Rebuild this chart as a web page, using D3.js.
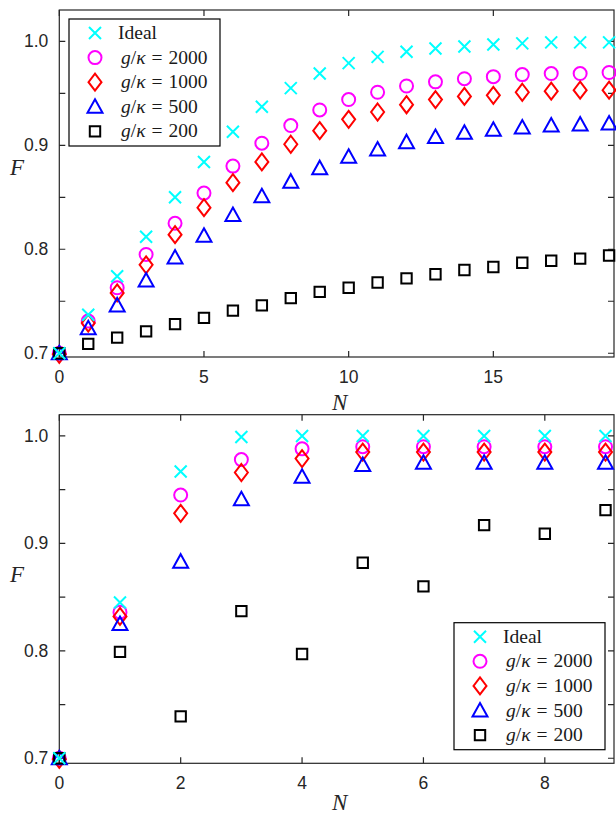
<!DOCTYPE html>
<html>
<head>
<meta charset="utf-8">
<script src="https://cdn.jsdelivr.net/npm/d3@7"></script>
<style>
  body { margin: 0; background: #fff; }
  svg { display: block; }
</style>
</head>
<body>
<div id="my_dataviz"></div>
<script>
// Data
var seriesNames = ["Ideal", "2000", "1000", "500", "200"];

// top panel, N = 0..19
var topN = d3.range(0, 20);
var topIdeal = [0.700, 0.737, 0.774, 0.812, 0.850, 0.884, 0.913, 0.937, 0.955, 0.969,
  0.979, 0.985, 0.990, 0.993, 0.995, 0.997, 0.998, 0.999, 0.999, 0.999];
var top2000 = [0.700, 0.731, 0.763, 0.795, 0.825, 0.854, 0.880, 0.902, 0.919, 0.934,
  0.944, 0.951, 0.957, 0.961, 0.964, 0.966, 0.968, 0.969, 0.969, 0.970];
var top1000 = [0.699, 0.729, 0.758, 0.785, 0.814, 0.840, 0.864, 0.884, 0.901, 0.914,
  0.925, 0.932, 0.939, 0.944, 0.947, 0.948, 0.951, 0.952, 0.953, 0.953];
var top500 = [0.700, 0.724, 0.746, 0.770, 0.792, 0.813, 0.833, 0.851, 0.865, 0.878,
  0.889, 0.896, 0.903, 0.908, 0.912, 0.915, 0.917, 0.919, 0.920, 0.921];
var top200 = [0.700, 0.709, 0.715, 0.721, 0.728, 0.734, 0.741, 0.746, 0.753, 0.759,
  0.763, 0.768, 0.772, 0.776, 0.780, 0.783, 0.787, 0.789, 0.791, 0.794];

// bottom panel, N = 0..9
var botN = d3.range(0, 10);
var botIdeal = [0.700, 0.845, 0.967, 0.999, 1.000, 1.000, 1.000, 1.000, 1.000, 1.000];
var bot2000 = [0.700, 0.836, 0.945, 0.978, 0.988, 0.990, 0.990, 0.990, 0.990, 0.990];
var bot1000 = [0.699, 0.832, 0.928, 0.966, 0.979, 0.985, 0.985, 0.985, 0.985, 0.985];
var bot500 = [0.700, 0.825, 0.883, 0.941, 0.962, 0.973, 0.975, 0.975, 0.975, 0.975];
var bot200 = [0.700, 0.799, 0.739, 0.837, 0.797, 0.882, 0.860, 0.917, 0.909, 0.931];

var topXTicks = [0, 5, 10, 15];
var botXTicks = [0, 2, 4, 6, 8];
var yTicks = [0.7, 0.75, 0.8, 0.85, 0.9, 0.95, 1.0];
var yLabels = [0.7, 0.8, 0.9, 1.0];

// style per series
var color = { Ideal: "#00ffff", "2000": "#ff00ff", "1000": "#ff0000", "500": "#0000ff", "200": "#000000" };
var shape = { Ideal: "x", "2000": "circle", "1000": "diamond", "500": "triangle", "200": "square" };
// draw order (last on top)
var drawOrder = ["2000", "1000", "500", "200", "Ideal"];

var axisColor = "#262626";

var svg = d3.select("#my_dataviz").append("svg")
  .attr("width", 616)
  .attr("height", 816);

// marker path centred on 0,0
function markerPath(kind) {
  var p = d3.path();
  if (kind == "x") {
    p.moveTo(-6, -6); p.lineTo(6, 6);
    p.moveTo(-6, 6); p.lineTo(6, -6);
  } else if (kind == "circle") {
    p.moveTo(6.5, 0); p.arc(0, 0, 6.5, 0, 2 * Math.PI);
  } else if (kind == "diamond") {
    p.moveTo(0, -8.5); p.lineTo(6.5, 0); p.lineTo(0, 8.5); p.lineTo(-6.5, 0); p.closePath();
  } else if (kind == "triangle") {
    p.moveTo(0, -7.5); p.lineTo(7.5, 6); p.lineTo(-7.5, 6); p.closePath();
  } else {
    p.rect(-5.2, -5.2, 10.4, 10.4);
  }
  return p.toString();
}

function drawPanel(opt) {
  var x = d3.scaleLinear().domain(opt.xDomain).range([opt.left, opt.right]);
  var y = d3.scaleLinear().domain(opt.yDomain).range([opt.bottom, opt.top]);
  var g = svg.append("g");

  // box with inward ticks
  g.append("rect")
    .attr("x", opt.left).attr("y", opt.top)
    .attr("width", opt.right - opt.left).attr("height", opt.bottom - opt.top)
    .attr("fill", "none").attr("stroke", axisColor).attr("stroke-width", 1.2);

  var tl = 6;
  g.selectAll(".xt").data(opt.xTicks).enter().append("path")
    .attr("stroke", axisColor).attr("stroke-width", 1.2)
    .attr("d", function (d) {
      return "M" + x(d) + "," + opt.bottom + "v" + (-tl) + "M" + x(d) + "," + opt.top + "v" + tl;
    });
  g.selectAll(".yt").data(yTicks).enter().append("path")
    .attr("stroke", axisColor).attr("stroke-width", 1.2)
    .attr("d", function (d) {
      return "M" + opt.left + "," + y(d) + "h" + tl + "M" + opt.right + "," + y(d) + "h" + (-tl);
    });

  // tick labels
  g.selectAll(".xl").data(opt.xTicks).enter().append("text")
    .attr("x", function (d) { return x(d); })
    .attr("y", opt.bottom + 26)
    .attr("text-anchor", "middle")
    .attr("font-family", "Liberation Sans, Arial, sans-serif")
    .attr("font-size", 17.5)
    .attr("fill", axisColor)
    .text(function (d) { return d; });
  g.selectAll(".yl").data(yLabels).enter().append("text")
    .attr("x", opt.left - 11)
    .attr("y", function (d) { return y(d) + 6; })
    .attr("text-anchor", "end")
    .attr("font-family", "Liberation Sans, Arial, sans-serif")
    .attr("font-size", 17.5)
    .attr("fill", axisColor)
    .text(function (d) { return d.toFixed(1); });

  // axis labels
  g.append("text")
    .attr("x", 17).attr("y", opt.fLabelY)
    .attr("text-anchor", "middle")
    .attr("font-family", "Liberation Serif, serif").attr("font-style", "italic")
    .attr("font-size", 23).attr("fill", axisColor)
    .text("F");
  g.append("text")
    .attr("x", (opt.left + opt.right) / 2 + 3).attr("y", opt.nLabelY)
    .attr("text-anchor", "middle")
    .attr("font-family", "Liberation Serif, serif").attr("font-style", "italic")
    .attr("font-size", 23).attr("fill", axisColor)
    .text("N");

  // markers
  drawOrder.forEach(function (name) {
    var vals = opt.series[name];
    g.append("g").selectAll("path").data(vals).enter().append("path")
      .attr("transform", function (d, i) { return "translate(" + x(opt.n[i]) + "," + y(d) + ")"; })
      .attr("d", markerPath(shape[name]))
      .attr("fill", "none")
      .attr("stroke", color[name])
      .attr("stroke-width", 2);
  });

  // legend
  var lg = g.append("g");
  lg.append("rect")
    .attr("x", opt.legX).attr("y", opt.legY)
    .attr("width", 151).attr("height", 127)
    .attr("fill", "#fff").attr("stroke", "#000").attr("stroke-width", 1.2);
  seriesNames.forEach(function (name, i) {
    var cy = opt.legY + 14 + i * 24.6;
    lg.append("path")
      .attr("transform", "translate(" + (opt.legX + 26) + "," + cy + ")")
      .attr("d", markerPath(shape[name]))
      .attr("fill", "none").attr("stroke", color[name]).attr("stroke-width", 2);
    var t = lg.append("text")
      .attr("x", opt.legX + (name == "Ideal" ? 49 : 52))
      .attr("y", cy + 6)
      .attr("font-family", "Liberation Serif, serif")
      .attr("font-size", 19.5).attr("fill", "#1a1a1a");
    if (name == "Ideal") {
      t.text("Ideal");
    } else {
      t.append("tspan").attr("font-style", "italic").text("g");
      t.append("tspan").text("/");
      t.append("tspan").attr("font-style", "italic").text("\u03BA");
      t.append("tspan").attr("dx", 6).text("=");
      t.append("tspan").attr("dx", 6).text(name);
    }
  });
}

drawPanel({
  left: 59.3, right: 614, top: 10, bottom: 357,
  xDomain: [0, 19.17], yDomain: [0.6964, 1.0301],
  xTicks: topXTicks, n: topN,
  series: { Ideal: topIdeal, "2000": top2000, "1000": top1000, "500": top500, "200": top200 },
  legX: 69, legY: 19, fLabelY: 175, nLabelY: 410
});

drawPanel({
  left: 59.3, right: 614, top: 414.7, bottom: 763.3,
  xDomain: [0, 9.14], yDomain: [0.6953, 1.0198],
  xTicks: botXTicks, n: botN,
  series: { Ideal: botIdeal, "2000": bot2000, "1000": bot1000, "500": bot500, "200": bot200 },
  legX: 454, legY: 622.7, fLabelY: 582, nLabelY: 810
});
</script>
</body>
</html>
